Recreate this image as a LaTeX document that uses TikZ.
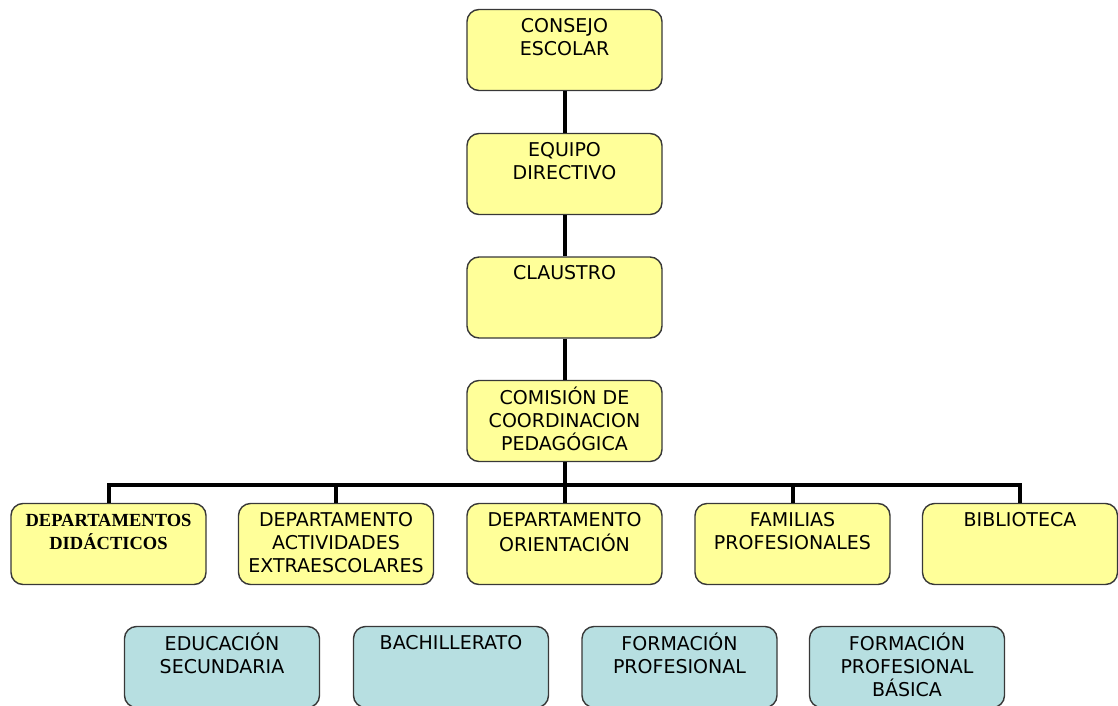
\documentclass[tikz,border=0pt]{standalone}
\usepackage{fontspec}
\setmainfont{DejaVu Sans}
\newfontfamily\serifdept{Liberation Serif}
\definecolor{boxyellow}{HTML}{FFFF99}
\definecolor{boxblue}{HTML}{B7DFE1}
\definecolor{boxline}{HTML}{383838}
\newcommand{\boxlabel}[1]{\parbox[c][68pt][t]{192pt}{\centering\fontsize{19}{23}\selectfont\strut #1}}
\newcommand{\serlabel}[1]{\parbox[c][68pt][t]{192pt}{\centering\serifdept\bfseries\fontsize{18.5}{23}\selectfont\strut #1}}
\tikzset{
  orgbox/.style={draw=boxline, line width=1.4pt, rounded corners=12pt, fill=boxyellow,
    minimum width=195pt, minimum height=81pt, inner sep=0pt, text=black},
  bluebox/.style={orgbox, fill=boxblue},
  conn/.style={line width=4pt, black}
}
\begin{document}
\begin{tikzpicture}[x=1pt,y=-1pt]
\useasboundingbox (0,0) rectangle (1118,706);
\node[orgbox] (ce) at (564.5,50) {\boxlabel{CONSEJO\\ESCOLAR}};
\node[orgbox] (ed) at (564.5,174) {\boxlabel{EQUIPO\\DIRECTIVO}};
\node[orgbox] (cl) at (564.5,297.5) {\boxlabel{CLAUSTRO}};
\node[orgbox] (cp) at (564.5,421) {\boxlabel{COMISIÓN DE\\COORDINACION\\PEDAGÓGICA}};
\coordinate (bus) at (0,485);
\node[orgbox] (d1) at (108.5,544) {\serlabel{DEPARTAMENTOS\\DIDÁCTICOS}};
\node[orgbox] (d2) at (336,544) {\boxlabel{DEPARTAMENTO\\ACTIVIDADES\\EXTRAESCOLARES}};
\node[orgbox] (d3) at (564.5,544) {\boxlabel{DEPARTAMENTO\\ORIENTACIÓN}};
\node[orgbox] (d4) at (792.5,544) {\boxlabel{FAMILIAS\\PROFESIONALES}};
\node[orgbox] (d5) at (1020,544) {\boxlabel{BIBLIOTECA}};
\node[bluebox] (e1) at (222,667) {\boxlabel{EDUCACIÓN\\SECUNDARIA}};
\node[bluebox] (e2) at (451,667) {\boxlabel{BACHILLERATO}};
\node[bluebox] (e3) at (679.5,667) {\boxlabel{FORMACIÓN\\PROFESIONAL}};
\node[bluebox] (e4) at (907,667) {\boxlabel{FORMACIÓN\\PROFESIONAL\\BÁSICA}};
\draw[conn] (ce.south) -- (ed.north);
\draw[conn] (ed.south) -- (cl.north);
\draw[conn] (cl.south) -- (cp.north);
\draw[conn] (cp.south) -- (cp.south |- bus);
\draw[conn] (d1.north) -- (d1.north |- bus) -| (d5.north);
\draw[conn] (d2.north) -- (d2.north |- bus);
\draw[conn] (d3.north) -- (d3.north |- bus);
\draw[conn] (d4.north) -- (d4.north |- bus);
\end{tikzpicture}
\end{document}
